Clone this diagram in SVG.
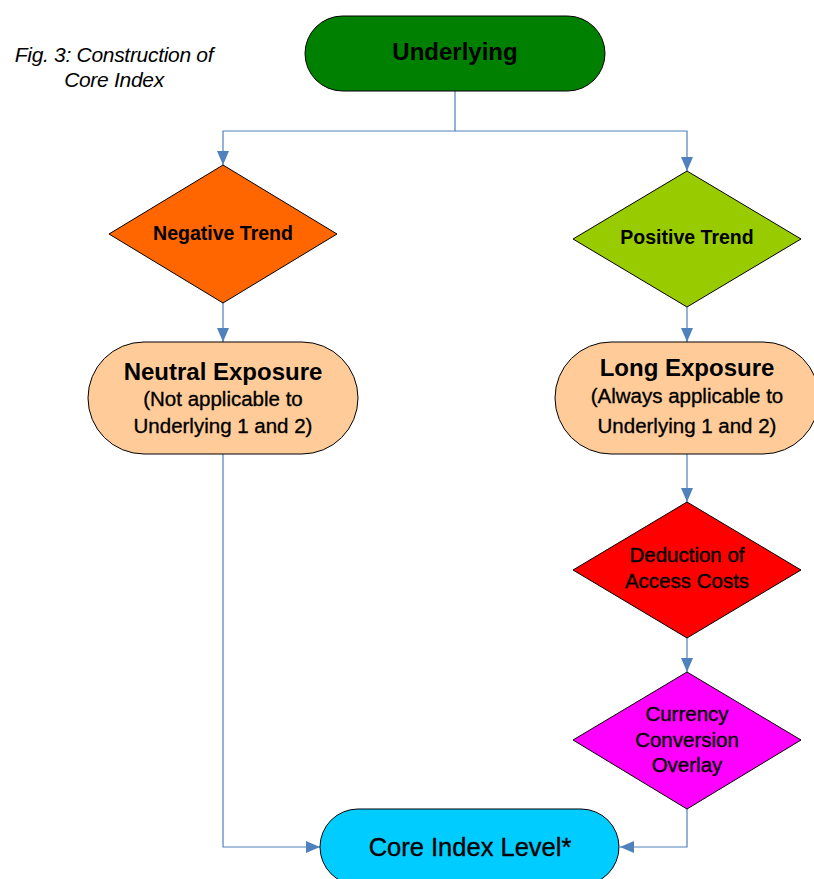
<svg xmlns="http://www.w3.org/2000/svg" width="814" height="879" viewBox="0 0 814 879">
<style>
.sh{stroke:#000;stroke-width:1}
.t{font-family:"Liberation Sans",Arial,sans-serif;fill:#000;text-anchor:middle}
.r{stroke:#000;stroke-width:0.35}
.b{font-weight:bold}
.c{fill:none;stroke:#4F81BD;stroke-width:1.2}
</style>
<defs>
<marker id="ah" markerUnits="userSpaceOnUse" markerWidth="14" markerHeight="12" viewBox="0 0 14 12" refX="14" refY="6" orient="auto">
<path d="M0,0 L14,6 L0,12 Z" fill="#4F81BD"/>
</marker>
</defs>
<rect width="814" height="879" fill="#fff"/>
<g id="caption">
<text class="t" x="114" y="62" font-size="21" font-style="italic" letter-spacing="-0.3">Fig. 3: Construction of</text>
<text class="t" x="114" y="87" font-size="21" font-style="italic" letter-spacing="-0.3">Core Index</text>
</g>
<g id="connectors">
<path class="c" d="M455,91 V131 H223 V165" marker-end="url(#ah)"/>
<path class="c" d="M455,131 H687 V171" marker-end="url(#ah)"/>
<path class="c" d="M223,303 V342" marker-end="url(#ah)"/>
<path class="c" d="M687,307 V342" marker-end="url(#ah)"/>
<path class="c" d="M687,454 V502" marker-end="url(#ah)"/>
<path class="c" d="M687,638 V672" marker-end="url(#ah)"/>
<path class="c" d="M687,809 V847 H620" marker-end="url(#ah)"/>
<path class="c" d="M223,454 V847 H320" marker-end="url(#ah)"/>
</g>
<g id="underlying">
<rect class="sh" x="305" y="16" width="300" height="75" rx="37.5" fill="#008000"/>
<text class="t b" x="455" y="60" font-size="24">Underlying</text>
</g>
<g id="negative">
<polygon class="sh" points="223,165 337,234 223,303 109,234" fill="#FF6600"/>
<text class="t b" x="223" y="240" font-size="19.5">Negative Trend</text>
</g>
<g id="positive">
<polygon class="sh" points="687,171 801,239 687,307 573,239" fill="#99CC00"/>
<text class="t b" x="687" y="244" font-size="19.5">Positive Trend</text>
</g>
<g id="neutral">
<rect class="sh" x="88" y="342" width="270" height="112" rx="56" fill="#FFCC99"/>
<text class="t b" x="223" y="380" font-size="24">Neutral Exposure</text>
<text class="t r" x="223" y="406" font-size="20.5">(Not applicable to</text>
<text class="t r" x="223" y="433" font-size="20.5">Underlying 1 and 2)</text>
</g>
<g id="long">
<rect class="sh" x="555" y="342" width="264" height="112" rx="56" fill="#FFCC99"/>
<text class="t b" x="687" y="376" font-size="24">Long Exposure</text>
<text class="t r" x="687" y="403" font-size="20.5">(Always applicable to</text>
<text class="t r" x="687" y="433" font-size="20.5">Underlying 1 and 2)</text>
</g>
<g id="deduction">
<polygon class="sh" points="687,502 801,570 687,638 573,570" fill="#FF0000"/>
<text class="t r" x="687" y="562" font-size="20.5">Deduction of</text>
<text class="t r" x="687" y="588" font-size="20.5">Access Costs</text>
</g>
<g id="currency">
<polygon class="sh" points="687,672 801,740 687,809 573,740" fill="#FF00FF"/>
<text class="t r" x="687" y="721" font-size="20.5">Currency</text>
<text class="t r" x="687" y="747" font-size="20.5">Conversion</text>
<text class="t r" x="687" y="772" font-size="20.5">Overlay</text>
</g>
<g id="core">
<rect class="sh" x="320" y="809" width="299" height="76" rx="38" fill="#00CCFF"/>
<text class="t r" x="470" y="856" font-size="25.5" stroke-width="0.6">Core Index Level*</text>
</g>
</svg>
